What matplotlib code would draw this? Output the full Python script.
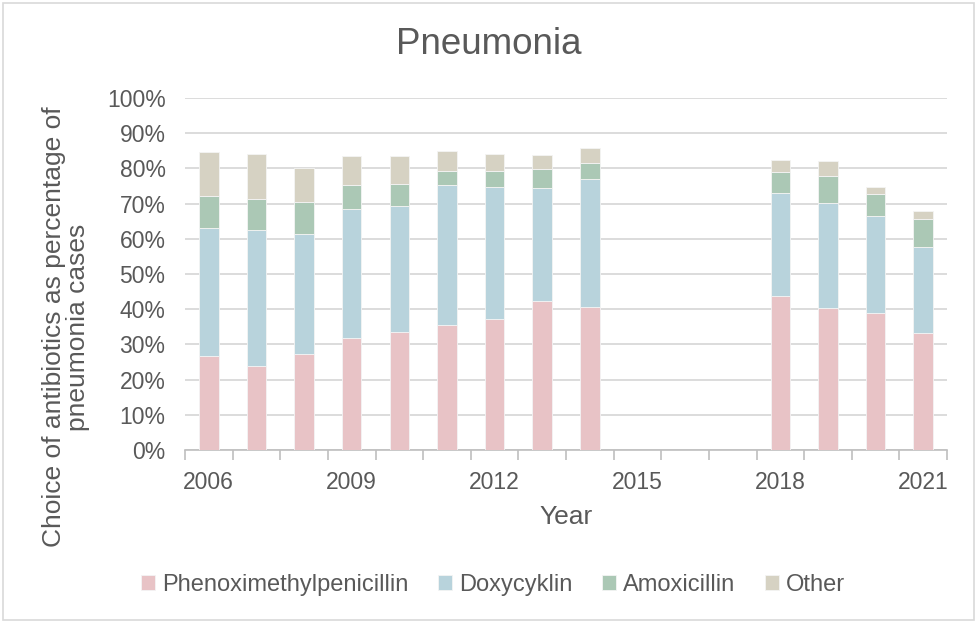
import matplotlib.pyplot as plt
import numpy as np
from matplotlib.patches import Rectangle
from matplotlib.ticker import FuncFormatter, FixedLocator

plt.rcParams['font.family'] = ['Liberation Sans', 'DejaVu Sans']

years = list(range(2006, 2022))
# shares per year, None where no data (2015-2017)
pheno = [26.7, 24.0, 27.2, 31.9, 33.6, 35.5, 37.1, 42.2, 40.5, None, None, None, 43.8, 40.4, 38.9, 33.1]
doxy  = [36.4, 38.5, 34.2, 36.6, 35.6, 39.8, 37.7, 32.3, 36.5, None, None, None, 29.3, 29.9, 27.6, 24.5]
amoxi = [9.0, 8.8, 9.0, 6.7, 6.4, 3.9, 4.4, 5.3, 4.5, None, None, None, 5.8, 7.5, 6.1, 8.0]
other = [12.5, 12.9, 9.7, 8.4, 8.0, 5.8, 5.0, 4.0, 4.4, None, None, None, 3.6, 4.4, 2.2, 2.3]
names = ['Phenoximethylpenicillin', 'Doxycyklin', 'Amoxicillin', 'Other']
colors = ['#E8C3C6', '#B8D3DC', '#ABC8B5', '#D6D2C3']
year_labels = ['2006', '2009', '2012', '2015', '2018', '2021']

txt = '#595959'
fig = plt.figure(figsize=(9.77, 6.22), dpi=100)
ax = fig.add_axes([185/977, 1-450/622, (947-185)/977, (450-98)/622])

x = np.arange(len(years))
bottom = np.zeros(len(years))
for vals, name, c in zip([pheno, doxy, amoxi, other], names, colors):
    v = np.array([np.nan if a is None else a / 100 for a in vals])
    ax.bar(x, np.nan_to_num(v), bottom=bottom, width=0.41, color=c,
           edgecolor='#F4F4F4', linewidth=0.6, label=name, zorder=3)
    bottom += np.nan_to_num(v)

ax.set_xlim(-0.5, len(years) - 0.5)
ax.set_ylim(0, 1)
ax.set_yticks(np.arange(0, 1.01, 0.1))
ax.yaxis.set_major_formatter(FuncFormatter(lambda v, p: f'{v*100:.0f}%'))
ax.grid(axis='y', color='#D9D9D9', linewidth=1.3, zorder=0)

major = [years.index(int(s)) for s in year_labels]
ax.set_xticks(major)
ax.set_xticklabels(year_labels)
ax.xaxis.set_minor_locator(FixedLocator(np.arange(-0.5, len(years), 1)))
ax.tick_params(axis='x', which='major', length=0, pad=15, labelsize=16.5, colors=txt)
ax.tick_params(axis='x', which='minor', length=7, width=1.2, color='#BFBFBF')
ax.tick_params(axis='y', length=0, pad=14, labelsize=16.5, colors=txt)

for s in ['top', 'right', 'left']:
    ax.spines[s].set_visible(False)
ax.spines['bottom'].set_color('#BFBFBF')
ax.spines['bottom'].set_linewidth(1.2)

ax.set_xlabel('Year', fontsize=19, color=txt, labelpad=8)
fig.text(66/977, 1-327/622, 'Choice of antibiotics as percentage of\npneumonia cases',
         rotation=90, ha='center', va='center', fontsize=19, color=txt,
         linespacing=1.05, multialignment='center')
fig.text(489/977, 1-45/622, 'Pneumonia', ha='center', va='center', fontsize=26.5, color=txt)

ax.legend(loc='center', bbox_to_anchor=(493/977, 1-585/622), bbox_transform=fig.transFigure,
          ncol=4, frameon=False, fontsize=17, handlelength=0.6, handleheight=0.6,
          handletextpad=0.3, columnspacing=1.25, labelcolor=txt)

fig.patches.append(Rectangle((3/977, 2/622), 971/977, 617/622, transform=fig.transFigure,
                             fill=False, edgecolor='#D9D9D9', linewidth=1.2))

fig.savefig('out.png', dpi=100)
